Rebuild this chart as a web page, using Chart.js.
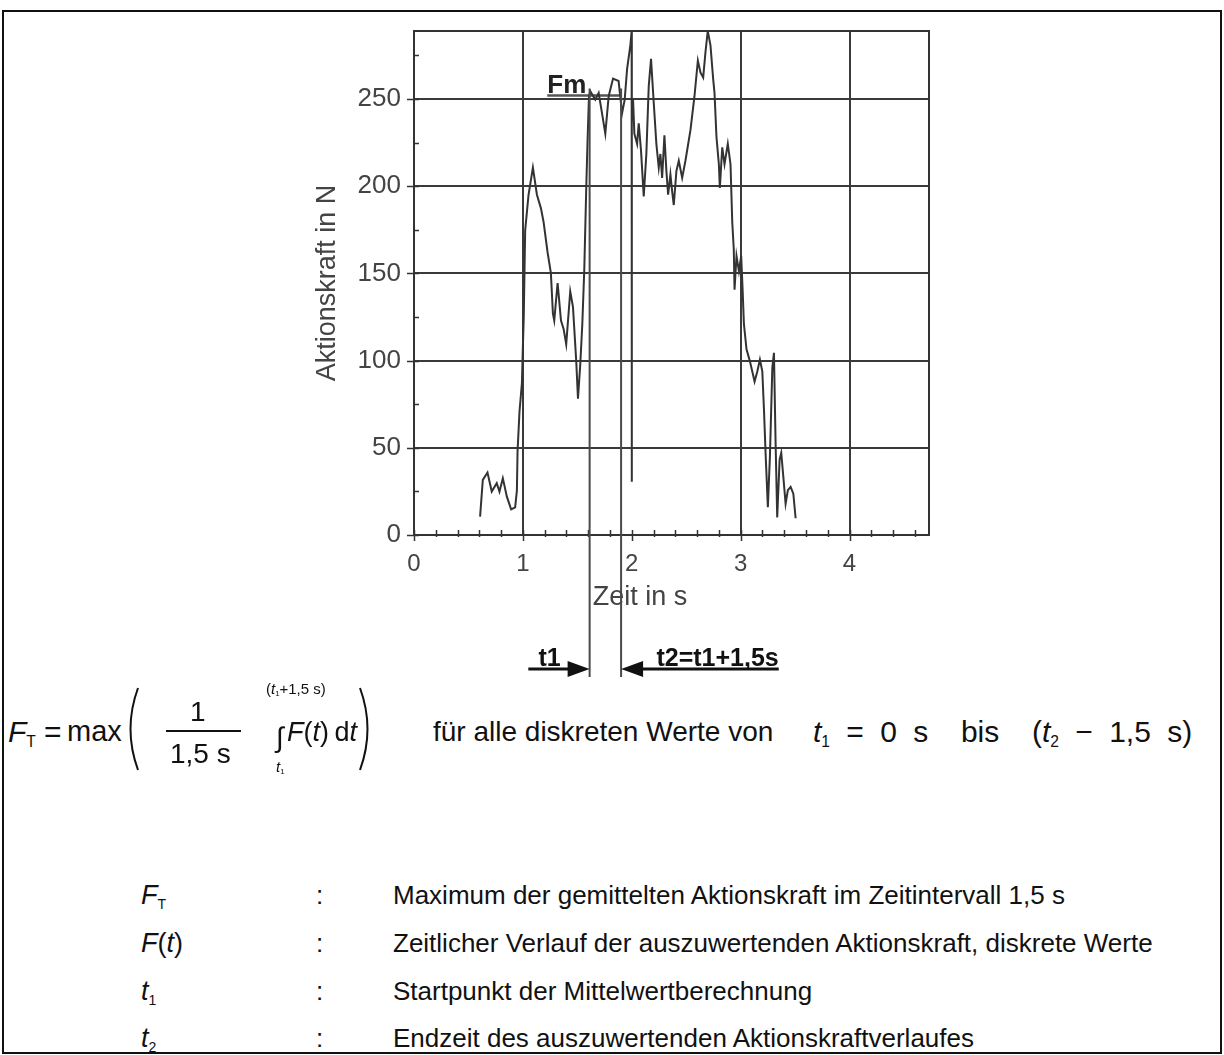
<!DOCTYPE html>
<html lang="de">
<head>
<meta charset="utf-8">
<title>Aktionskraft</title>
<script src="https://cdn.jsdelivr.net/npm/chart.js@4.4.1/dist/chart.umd.min.js"></script>
<style>
  html, body { margin: 0; padding: 0; background: #fff; }
  #seite { position: relative; width: 1224px; height: 1055px; overflow: hidden; color: #111; font-family: "Liberation Sans", Arial, sans-serif; }
  #rahmen { position: absolute; left: 2px; top: 10px; width: 1216px; height: 1040px; border: 2px solid #111; }
  #diagramm { position: absolute; left: 0; top: 0; }
  .t { position: absolute; white-space: nowrap; line-height: 1; }
  .t i { font-style: italic; }
  .tief { position: relative; top: 5px; font-size: 0.52em; }
  .strich { position: absolute; background: #111; }
  svg { position: absolute; overflow: visible; }
</style>
</head>
<body>
<div id="seite">
  <div id="rahmen"></div>
  <canvas id="diagramm" width="1224" height="700"></canvas>

  <!-- Formel -->
  <div class="t" style="left:8px; top:717px; font-size:30px;"><i>F</i><span class="tief">T</span></div>
  <div class="t" style="left:44px; top:717px; font-size:30px;">=</div>
  <div class="t" style="left:67px; top:717px; font-size:29px;">max</div>
  <svg style="left:122px; top:686px;" width="20" height="86"><path d="M16 2 Q 1 43 16 84" fill="none" stroke="#111" stroke-width="2"/></svg>
  <div class="t" style="left:190px; top:698px; font-size:28px;">1</div>
  <div class="strich" style="left:166px; top:730px; width:75px; height:2px;"></div>
  <div class="t" style="left:170px; top:740px; font-size:28px;">1,5&nbsp;s</div>
  <div class="t" style="left:266px; top:681px; font-size:15px;">(<i>t</i><span class="tief" style="top:2px">1</span>+1,5&nbsp;s)</div>
  <div class="t" style="left:276px; top:724px; font-size:28px;">∫</div>
  <div class="t" style="left:287px; top:719px; font-size:27px;"><i>F</i>(<i>t</i>)&thinsp;d<i>t</i></div>
  <div class="t" style="left:276px; top:759px; font-size:15px;"><i>t</i><span class="tief" style="top:2px">1</span></div>
  <svg style="left:356px; top:686px;" width="20" height="86"><path d="M4 2 Q 19 43 4 84" fill="none" stroke="#111" stroke-width="2"/></svg>
  <div class="t" style="left:433px; top:718px; font-size:28px;">für alle diskreten Werte von</div>
  <div class="t" style="left:813px; top:717px; font-size:30px; word-spacing:8px;"><i>t</i><span class="tief">1</span> = 0 s&nbsp; bis&nbsp; (<i>t</i><span class="tief">2</span> − 1,5 s)</div>

  <!-- Legende -->
  <div class="t" style="left:141px; top:882px; font-size:27px;"><i>F</i><span class="tief">T</span></div>
  <div class="t" style="left:316px; top:882px; font-size:26px;">:</div>
  <div class="t" style="left:393px; top:882px; font-size:26px;">Maximum der gemittelten Aktionskraft im Zeitintervall 1,5 s</div>

  <div class="t" style="left:141px; top:930px; font-size:27px;"><i>F</i>(<i>t</i>)</div>
  <div class="t" style="left:316px; top:930px; font-size:26px;">:</div>
  <div class="t" style="left:393px; top:930px; font-size:26px;">Zeitlicher Verlauf der auszuwertenden Aktionskraft, diskrete Werte</div>

  <div class="t" style="left:141px; top:978px; font-size:27px;"><i>t</i><span class="tief">1</span></div>
  <div class="t" style="left:316px; top:978px; font-size:26px;">:</div>
  <div class="t" style="left:393px; top:978px; font-size:26px;">Startpunkt der Mittelwertberechnung</div>

  <div class="t" style="left:141px; top:1025px; font-size:27px;"><i>t</i><span class="tief">2</span></div>
  <div class="t" style="left:316px; top:1025px; font-size:26px;">:</div>
  <div class="t" style="left:393px; top:1025px; font-size:26px;">Endzeit des auszuwertenden Aktionskraftverlaufes</div>
</div>

<script>
const zeit = [
  0.607, 0.632, 0.675, 0.714, 0.760, 0.785, 0.816, 0.853, 0.892, 0.929,
  0.945, 0.951, 0.969, 0.991, 1.000, 1.008, 1.021, 1.052, 1.092, 1.129,
  1.166, 1.190, 1.227, 1.257, 1.276, 1.288, 1.319, 1.350, 1.374, 1.398,
  1.435, 1.460, 1.490, 1.506, 1.527, 1.546, 1.564, 1.582, 1.594, 1.607,
  1.619, 1.665, 1.696, 1.727, 1.757, 1.788, 1.828, 1.879, 1.911, 1.935,
  1.957, 1.987, 1.999, 2.000, 2.001, 2.012, 2.024, 2.049, 2.064, 2.085,
  2.110, 2.134, 2.156, 2.177, 2.202, 2.226, 2.248, 2.263, 2.279, 2.300,
  2.318, 2.334, 2.355, 2.371, 2.386, 2.410, 2.432, 2.463, 2.493, 2.539,
  2.576, 2.607, 2.631, 2.656, 2.677, 2.698, 2.723, 2.748, 2.760, 2.778,
  2.800, 2.809, 2.831, 2.852, 2.882, 2.907, 2.923, 2.937, 2.944, 2.962,
  2.984, 3.005, 3.017, 3.030, 3.054, 3.085, 3.107, 3.128, 3.153, 3.177,
  3.199, 3.214, 3.229, 3.250, 3.269, 3.291, 3.306, 3.321, 3.336, 3.358,
  3.373, 3.392, 3.413, 3.434, 3.459, 3.484, 3.505
];
const kraft = [
  10.5, 31.6, 35.8, 24.9, 29.7, 24.9, 32.5, 22.0, 14.7, 15.9,
  25.4, 47.8, 70.8, 87.0, 108, 125, 174.6, 195.1, 210.7, 195.1,
  187.3, 179.5, 162.0, 150.3, 126.9, 123.0, 144.5, 123.0, 118.2, 109.4,
  139.6, 130.8, 99.7, 78.2, 97.7, 121.1, 152.2, 199.0, 226.2, 251.5,
  254.5, 249.6, 253.5, 241.8, 230.1, 251.6, 261.7, 260.3, 241.8, 249.6,
  267.1, 280.8, 289, 30.5, 250, 249.6, 230.1, 224.3, 236.0, 220.4,
  194.1, 218.5, 257.4, 273.0, 247.7, 224.3, 210.7, 218.5, 204.8, 229.2,
  208.7, 195.1, 206.8, 197.0, 189.2, 208.7, 214.6, 204.8, 214.6, 232.1,
  251.6, 272.0, 265.2, 262.3, 276.9, 289, 280.8, 261.3, 253.5, 228.2,
  212.6, 199.0, 222.3, 212.6, 224.3, 212.6, 179.5, 163.9, 140.6, 160.0,
  151.3, 160.0, 142.5, 121.1, 106.5, 99.7, 93.8, 88.0, 93.8, 100.6,
  93.8, 72.4, 47.1, 15.9, 45.1, 95.8, 104.5, 53.0, 10.1, 43.2,
  47.1, 33.5, 17.9, 25.7, 27.6, 23.7, 9.6
];

// Mittelwertlinie Fm
const fmZeit = [1.224, 1.902];
const fmKraft = [252, 252];

// Intervallgrenzen
const t1Wert = 1.613;
const t2Wert = 1.902;

// Achsen
const zeitMax = 4.73;
const kraftMax = 289;

const schrift = '"Liberation Sans", Arial, sans-serif';
const istGanz = v => Math.abs(v - Math.round(v)) < 1e-6;

// Zusatzzeichnung: Rahmen, Teilstriche, Achsentitel, t1/t2-Markierungen
const zusatz = {
  id: 'zusatz',
  afterDraw(chart) {
    const { ctx, chartArea: a, scales: { x, y } } = chart;
    ctx.save();

    ctx.strokeStyle = '#333';
    ctx.lineWidth = 2;
    ctx.beginPath();
    ctx.moveTo(a.left, a.top);
    ctx.lineTo(a.right, a.top);
    ctx.lineTo(a.right, a.bottom);
    ctx.stroke();

    // Teilstriche
    ctx.lineWidth = 1.5;
    ctx.beginPath();
    y.ticks.forEach(t => {
      const py = Math.round(y.getPixelForValue(t.value)) + 0.5;
      ctx.moveTo(a.left - (t.value % 50 === 0 ? 7 : 0), py);
      ctx.lineTo(a.left + 5, py);
    });
    x.ticks.forEach(t => {
      const px = Math.round(x.getPixelForValue(t.value)) + 0.5;
      ctx.moveTo(px, a.bottom - 5);
      ctx.lineTo(px, a.bottom + (istGanz(t.value) ? 6 : 2));
    });
    ctx.stroke();

    // x-Achsentitel
    ctx.fillStyle = '#444';
    ctx.font = '27px ' + schrift;
    ctx.textAlign = 'center';
    ctx.textBaseline = 'alphabetic';
    ctx.fillText('Zeit in s', 640, a.bottom + 70);

    // t1 / t2 Linien
    const p1 = x.getPixelForValue(t1Wert);
    const p2 = x.getPixelForValue(t2Wert);
    const oben = y.getPixelForValue(256);
    const unten = a.bottom + 142;
    ctx.strokeStyle = '#4a4a4a';
    ctx.lineWidth = 2;
    ctx.beginPath();
    ctx.moveTo(p1, oben); ctx.lineTo(p1, unten);
    ctx.moveTo(p2, oben); ctx.lineTo(p2, unten);
    ctx.stroke();

    // Pfeile
    const py = a.bottom + 134;
    const ende = x.getPixelForValue(3.35);
    ctx.strokeStyle = '#111';
    ctx.fillStyle = '#111';
    ctx.lineWidth = 3;
    ctx.beginPath();
    ctx.moveTo(x.getPixelForValue(1.05), py); ctx.lineTo(p1 - 10, py);
    ctx.moveTo(p2 + 10, py); ctx.lineTo(ende, py);
    ctx.stroke();
    ctx.beginPath();
    ctx.moveTo(p1, py); ctx.lineTo(p1 - 22, py - 8); ctx.lineTo(p1 - 22, py + 8); ctx.closePath();
    ctx.moveTo(p2, py); ctx.lineTo(p2 + 22, py - 8); ctx.lineTo(p2 + 22, py + 8); ctx.closePath();
    ctx.fill();

    ctx.font = 'bold 25px ' + schrift;
    ctx.textAlign = 'right';
    ctx.fillText('t1', p1 - 29, py - 3);
    ctx.fillText('t2=t1+1,5s', ende, py - 3);

    ctx.textAlign = 'left';
    ctx.font = 'bold 26px ' + schrift;
    ctx.fillStyle = '#222';
    ctx.fillText('Fm', x.getPixelForValue(fmZeit[0]), y.getPixelForValue(253.5));

    ctx.restore();
  }
};

new Chart(document.getElementById('diagramm').getContext('2d'), {
  type: 'line',
  data: {
    datasets: [
      {
        label: 'Aktionskraft',
        data: zeit.map((t, i) => ({ x: t, y: kraft[i] })),
        borderColor: '#333',
        borderWidth: 2,
        pointRadius: 0,
        tension: 0,
        fill: false
      },
      {
        label: 'Fm',
        data: fmZeit.map((t, i) => ({ x: t, y: fmKraft[i] })),
        borderColor: '#555',
        borderWidth: 2.5,
        pointRadius: 0,
        fill: false
      }
    ]
  },
  options: {
    responsive: false,
    animation: false,
    devicePixelRatio: 1,
    layout: { padding: { left: 311, top: 31, right: 295, bottom: 85 } },
    plugins: { legend: { display: false }, tooltip: { enabled: false } },
    scales: {
      x: {
        type: 'linear',
        min: 0,
        max: zeitMax,
        afterFit(s) { s.height = 80; },
        ticks: {
          stepSize: 0.2,
          includeBounds: false,
          autoSkip: false,
          maxRotation: 0,
          padding: 15,
          color: '#444',
          font: { family: schrift, size: 24 },
          callback: v => (istGanz(v) ? Math.round(v) : '')
        },
        grid: {
          drawTicks: false,
          lineWidth: 2,
          color: c => {
            const v = c.tick ? c.tick.value : 0;
            return v > 0 && istGanz(v) && Math.round(v) !== 2 ? '#3a3a3a' : 'transparent';
          }
        },
        border: { color: '#333', width: 2 }
      },
      y: {
        type: 'linear',
        min: 0,
        max: kraftMax,
        afterFit(s) { s.width = 103; },
        ticks: {
          stepSize: 25,
          includeBounds: false,
          autoSkip: false,
          padding: 13,
          color: '#444',
          font: { family: schrift, size: 26 },
          callback: v => (v % 50 === 0 ? v : '')
        },
        grid: {
          drawTicks: false,
          lineWidth: 2,
          color: c => (c.tick && c.tick.value > 0 && c.tick.value % 50 === 0 ? '#3a3a3a' : 'transparent')
        },
        border: { color: '#333', width: 2 },
        title: {
          display: true,
          text: 'Aktionskraft in N',
          color: '#444',
          font: { family: schrift, size: 27 },
          padding: { top: 0, bottom: 0 }
        }
      }
    }
  },
  plugins: [zusatz]
});
</script>
</body>
</html>
